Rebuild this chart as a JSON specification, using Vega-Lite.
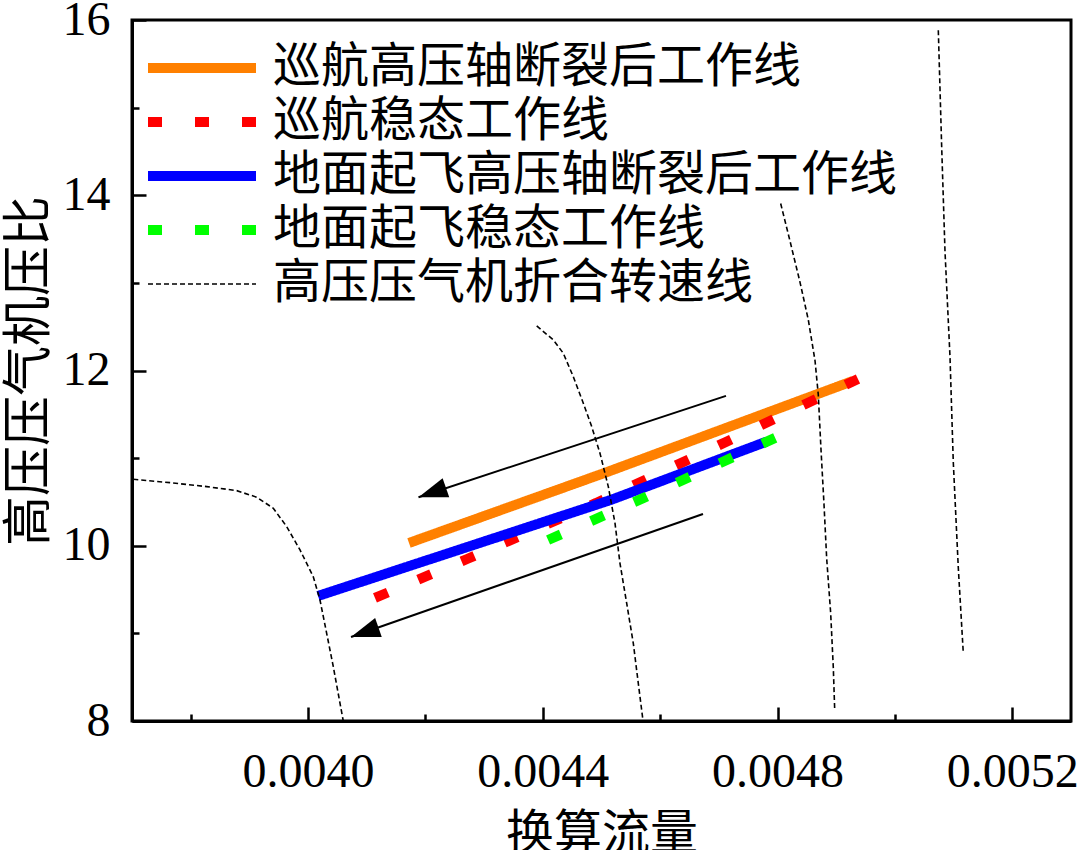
{
  "$schema": "https://vega.github.io/schema/vega-lite/v6.json",
  "width": 939,
  "height": 701,
  "autosize": "none",
  "padding": {"left": 132, "top": 20, "right": 9, "bottom": 129},
  "background": "white",
  "config": {
    "view": {"stroke": "black", "strokeWidth": 3},
    "axis": {
      "grid": false,
      "domainColor": "black",
      "domainWidth": 3,
      "tickColor": "black",
      "tickWidth": 2.5,
      "labelColor": "black",
      "labelFont": "Liberation Serif",
      "labelFontSize": 48,
      "titleColor": "black",
      "titleFont": "Noto Sans CJK SC",
      "titleFontWeight": "normal"
    }
  },
  "datasets": {
    "curves": [
      {"s": "巡航高压轴断裂后工作线", "c": "a", "x": 0.004172, "y": 10.032},
      {"s": "巡航高压轴断裂后工作线", "c": "a", "x": 0.004509, "y": 10.84},
      {"s": "巡航高压轴断裂后工作线", "c": "a", "x": 0.0049285, "y": 11.881},
      {"s": "巡航稳态工作线", "c": "b", "x": 0.004114, "y": 9.404},
      {"s": "巡航稳态工作线", "c": "b", "x": 0.004271, "y": 9.849},
      {"s": "巡航稳态工作线", "c": "b", "x": 0.004491, "y": 10.489},
      {"s": "巡航稳态工作线", "c": "b", "x": 0.004712, "y": 11.185},
      {"s": "巡航稳态工作线", "c": "b", "x": 0.004937, "y": 11.904},
      {"s": "地面起飞高压轴断裂后工作线", "c": "c", "x": 0.004017, "y": 9.427},
      {"s": "地面起飞高压轴断裂后工作线", "c": "c", "x": 0.004516, "y": 10.523},
      {"s": "地面起飞高压轴断裂后工作线", "c": "c", "x": 0.004781, "y": 11.188},
      {"s": "地面起飞稳态工作线", "c": "d", "x": 0.004409, "y": 10.066},
      {"s": "地面起飞稳态工作线", "c": "d", "x": 0.004572, "y": 10.546},
      {"s": "地面起飞稳态工作线", "c": "d", "x": 0.004802, "y": 11.25},
      {"s": "高压压气机折合转速线", "c": "n1", "x": 0.0037022, "y": 10.759},
      {"s": "高压压气机折合转速线", "c": "n1", "x": 0.0037647, "y": 10.72},
      {"s": "高压压气机折合转速线", "c": "n1", "x": 0.0038273, "y": 10.675},
      {"s": "高压压气机折合转速线", "c": "n1", "x": 0.0038784, "y": 10.629},
      {"s": "高压压气机折合转速线", "c": "n1", "x": 0.0039125, "y": 10.554},
      {"s": "高压压气机折合转速线", "c": "n1", "x": 0.0039408, "y": 10.428},
      {"s": "高压压气机折合转速线", "c": "n1", "x": 0.0039636, "y": 10.218},
      {"s": "高压压气机折合转速线", "c": "n1", "x": 0.0039863, "y": 9.952},
      {"s": "高压压气机折合转速线", "c": "n1", "x": 0.0040089, "y": 9.647},
      {"s": "高压压气机折合转速线", "c": "n1", "x": 0.0040203, "y": 9.381},
      {"s": "高压压气机折合转速线", "c": "n1", "x": 0.0040317, "y": 9.001},
      {"s": "高压压气机折合转速线", "c": "n1", "x": 0.004043, "y": 8.62},
      {"s": "高压压气机折合转速线", "c": "n1", "x": 0.004060, "y": 8.0},
      {"s": "高压压气机折合转速线", "c": "n2", "x": 0.0043896, "y": 12.509},
      {"s": "高压压气机折合转速线", "c": "n2", "x": 0.0044179, "y": 12.349},
      {"s": "高压压气机折合转速线", "c": "n2", "x": 0.0044349, "y": 12.197},
      {"s": "高压压气机折合转速线", "c": "n2", "x": 0.0044519, "y": 11.93},
      {"s": "高压压气机折合转速线", "c": "n2", "x": 0.004469, "y": 11.627},
      {"s": "高压压气机折合转速线", "c": "n2", "x": 0.0044833, "y": 11.36},
      {"s": "高压压气机折合转速线", "c": "n2", "x": 0.0044974, "y": 11.056},
      {"s": "高压压气机折合转速线", "c": "n2", "x": 0.0045116, "y": 10.675},
      {"s": "高压压气机折合转速线", "c": "n2", "x": 0.004523, "y": 10.257},
      {"s": "高压压气机折合转速线", "c": "n2", "x": 0.0045315, "y": 9.8},
      {"s": "高压压气机折合转速线", "c": "n2", "x": 0.0045429, "y": 9.344},
      {"s": "高压压气机折合转速线", "c": "n2", "x": 0.0045542, "y": 8.887},
      {"s": "高压压气机折合转速线", "c": "n2", "x": 0.0045627, "y": 8.43},
      {"s": "高压压气机折合转速线", "c": "n2", "x": 0.0045702, "y": 8.031},
      {"s": "高压压气机折合转速线", "c": "n3", "x": 0.0048053, "y": 13.906},
      {"s": "高压压气机折合转速线", "c": "n3", "x": 0.0048212, "y": 13.477},
      {"s": "高压压气机折合转速线", "c": "n3", "x": 0.0048382, "y": 13.009},
      {"s": "高压压气机折合转速线", "c": "n3", "x": 0.0048523, "y": 12.581},
      {"s": "高压压气机折合转速线", "c": "n3", "x": 0.0048638, "y": 12.114},
      {"s": "高压压气机折合转速线", "c": "n3", "x": 0.0048694, "y": 11.724},
      {"s": "高压压气机折合转速线", "c": "n3", "x": 0.004874, "y": 11.1},
      {"s": "高压压气机折合转速线", "c": "n3", "x": 0.0048791, "y": 10.477},
      {"s": "高压压气机折合转速线", "c": "n3", "x": 0.0048837, "y": 9.854},
      {"s": "高压压气机折合转速线", "c": "n3", "x": 0.0048905, "y": 9.231},
      {"s": "高压压气机折合转速线", "c": "n3", "x": 0.004895, "y": 8.607},
      {"s": "高压压气机折合转速线", "c": "n3", "x": 0.0048973, "y": 8.139},
      {"s": "高压压气机折合转速线", "c": "n4", "x": 0.0050739, "y": 15.882},
      {"s": "高压压气机折合转速线", "c": "n4", "x": 0.0050796, "y": 14.561},
      {"s": "高压压气机折合转速线", "c": "n4", "x": 0.0050853, "y": 13.36},
      {"s": "高压压气机折合转速线", "c": "n4", "x": 0.0050938, "y": 12.159},
      {"s": "高压压气机折合转速线", "c": "n4", "x": 0.0050994, "y": 10.958},
      {"s": "高压压气机折合转速线", "c": "n4", "x": 0.0051079, "y": 9.757},
      {"s": "高压压气机折合转速线", "c": "n4", "x": 0.0051165, "y": 8.772}
    ],
    "arrows": [
      {"a": "1", "x": 0.0047121, "y": 11.71, "tip": false},
      {"a": "1", "x": 0.0041882, "y": 10.554, "tip": true},
      {"a": "2", "x": 0.0046729, "y": 10.363, "tip": false},
      {"a": "2", "x": 0.0040732, "y": 8.959, "tip": true}
    ]
  },
  "layer": [
    {
      "data": {"name": "curves"},
      "encoding": {
        "x": {
          "field": "x", "type": "quantitative",
          "scale": {"domain": [0.0037, 0.0053], "nice": false, "zero": false},
          "axis": {
            "title": "换算流量",
            "titleFontSize": 48,
            "values": [0.0038, 0.004, 0.0042, 0.0044, 0.0046, 0.0048, 0.005, 0.0052],
            "format": ".4f",
            "labelExpr": "round(datum.value*10000) % 4 == 0 ? datum.label : ''",
            "tickSize": {"condition": {"test": "round(datum.value*10000) % 4 == 0", "value": -14}, "value": -7},
            "labelPadding": 41,
            "titlePadding": 14
          }
        },
        "y": {
          "field": "y", "type": "quantitative",
          "scale": {"domain": [8, 16], "nice": false, "zero": false},
          "axis": {
            "title": "高压压气机压比",
            "titleFontSize": 50,
            "values": [8, 9, 10, 11, 12, 13, 14, 15, 16],
            "format": "d",
            "labelExpr": "datum.value % 2 == 0 ? datum.label : ''",
            "tickSize": {"condition": {"test": "datum.value % 2 == 0", "value": -14}, "value": -7},
            "labelPadding": 36,
            "titlePadding": 8
          }
        },
        "color": {
          "field": "s", "type": "nominal",
          "scale": {
            "domain": ["巡航高压轴断裂后工作线", "巡航稳态工作线", "地面起飞高压轴断裂后工作线", "地面起飞稳态工作线", "高压压气机折合转速线"],
            "range": ["#ff8000", "#ff0000", "#0000ff", "#00ff00", "#000000"]
          },
          "legend": {
            "title": null,
            "orient": "none",
            "legendX": 11,
            "legendY": 24,
            "symbolType": "stroke",
            "symbolSize": 11664,
            "labelFont": "Noto Sans CJK SC",
            "labelFontSize": 48,
            "labelColor": "black",
            "labelOffset": 12,
            "labelLimit": 0,
            "clipHeight": 48,
            "rowPadding": 6
          }
        },
        "strokeDash": {
          "field": "s", "type": "nominal",
          "scale": {
            "domain": ["巡航高压轴断裂后工作线", "巡航稳态工作线", "地面起飞高压轴断裂后工作线", "地面起飞稳态工作线", "高压压气机折合转速线"],
            "range": [[1, 0], [14, 33], [1, 0], [14, 33], [5, 3]]
          }
        },
        "strokeWidth": {
          "field": "s", "type": "nominal",
          "scale": {
            "type": "ordinal",
            "domain": ["巡航高压轴断裂后工作线", "巡航稳态工作线", "地面起飞高压轴断裂后工作线", "地面起飞稳态工作线", "高压压气机折合转速线"],
            "range": [10, 10, 10, 10, 1.6]
          }
        },
        "detail": {"field": "c", "type": "nominal"}
      },
      "layer": [
        {"transform": [{"filter": "datum.c == 'a'"}], "mark": {"type": "line"}},
        {"transform": [{"filter": "datum.c == 'b'"}], "mark": {"type": "line"}},
        {"transform": [{"filter": "datum.c == 'c'"}], "mark": {"type": "line"}},
        {"transform": [{"filter": "datum.c == 'd'"}], "mark": {"type": "line"}},
        {"transform": [{"filter": "indexof(datum.c, 'n') == 0"}], "mark": {"type": "line"}}
      ]
    },
    {
      "data": {"name": "arrows"},
      "layer": [
        {
          "mark": {"type": "line", "color": "black", "strokeWidth": 2},
          "encoding": {
            "x": {"field": "x", "type": "quantitative"},
            "y": {"field": "y", "type": "quantitative"},
            "detail": {"field": "a", "type": "nominal"}
          }
        },
        {
          "transform": [{"filter": "datum.tip"}],
          "mark": {"type": "point", "shape": "M0,0L2,-0.7L2,0.7Z", "filled": true, "color": "black", "opacity": 1, "size": 841, "angle": 341},
          "encoding": {
            "x": {"field": "x", "type": "quantitative"},
            "y": {"field": "y", "type": "quantitative"}
          }
        }
      ]
    }
  ]
}
